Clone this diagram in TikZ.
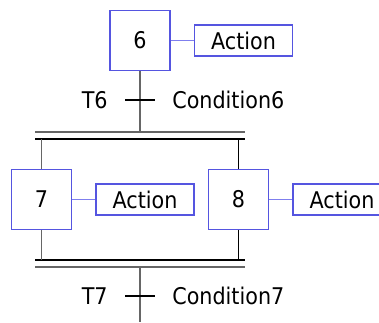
\documentclass[tikz,border=0pt]{standalone}
\usepackage{fontspec}
\setmainfont{DejaVu Sans Condensed}
\usepackage{tikz}
\usetikzlibrary{positioning}
\definecolor{stepc}{HTML}{5555E0}
\definecolor{linkc}{HTML}{7F7FEE}
\definecolor{wirec}{HTML}{666666}

\begin{document}
\begin{tikzpicture}[x=1pt, y=-1pt,
  stepbox/.style={draw=stepc, line width=1.5pt, minimum width=60pt, minimum height=60pt,
                  inner sep=0pt, font=\fontsize{23}{23}\selectfont},
  actbox/.style={draw=stepc, line width=1.5pt, minimum width=98pt, minimum height=31pt,
                 inner sep=0pt, font=\fontsize{23}{23}\selectfont},
  trans/.style={fill=black, minimum width=30pt, minimum height=2.8pt, inner sep=0pt},
  lbl/.style={inner sep=0pt, font=\fontsize{23}{23}\selectfont},
  link/.style={draw=linkc, line width=1.5pt},
  wire/.style={draw=wirec, line width=1.5pt},
  bwire/.style={draw=black, line width=1.5pt}
]
\useasboundingbox (0,0) rectangle (379,322);

% steps and their actions
\node[stepbox] (s6) at (140,40.5) {6};
\node[actbox, right=23pt of s6] (a6) {Action};
\node[stepbox] (s7) at (41.5,199.5) {7};
\node[actbox, right=23pt of s7] (a7) {Action};
\node[stepbox] (s8) at (238.5,199.5) {8};
\node[actbox, right=23pt of s8] (a8) {Action};
\draw[link] (s6) -- (a6);
\draw[link] (s7) -- (a7);
\draw[link] (s8) -- (a8);

% simultaneous divergence / convergence bars
\coordinate (div) at (140,132);
\coordinate (divb) at (140,139);
\coordinate (conv) at (140,260);
\coordinate (convb) at (140,267);
\coordinate (out) at (140,322);
\draw[wire] (35,132) -- (245,132);
\draw[bwire] (35,139) -- (245,139);
\draw[bwire] (35,260) -- (245,260);
\draw[wire] (35,267) -- (245,267);

% links between steps
\draw[wire] (s6.south) -- (div);
\draw[wire] (s7.north |- divb) -- (s7.north);
\draw[bwire] (s8.north |- divb) -- (s8.north);
\draw[wire] (s7.south) -- (s7.south |- conv);
\draw[bwire] (s8.south) -- (s8.south |- conv);
\draw[wire] (convb) -- (out);

% transitions
\node[trans] (t6) at (140,100) {};
\node[lbl, left=17pt of t6] (t6n) {T6};
\node[lbl, right=17pt of t6, anchor=west] (t6c) {Condition6};
\node[trans] (t7) at (140,296) {};
\node[lbl, left=17pt of t7] (t7n) {T7};
\node[lbl, right=17pt of t7, anchor=west] (t7c) {Condition7};
\end{tikzpicture}
\end{document}
